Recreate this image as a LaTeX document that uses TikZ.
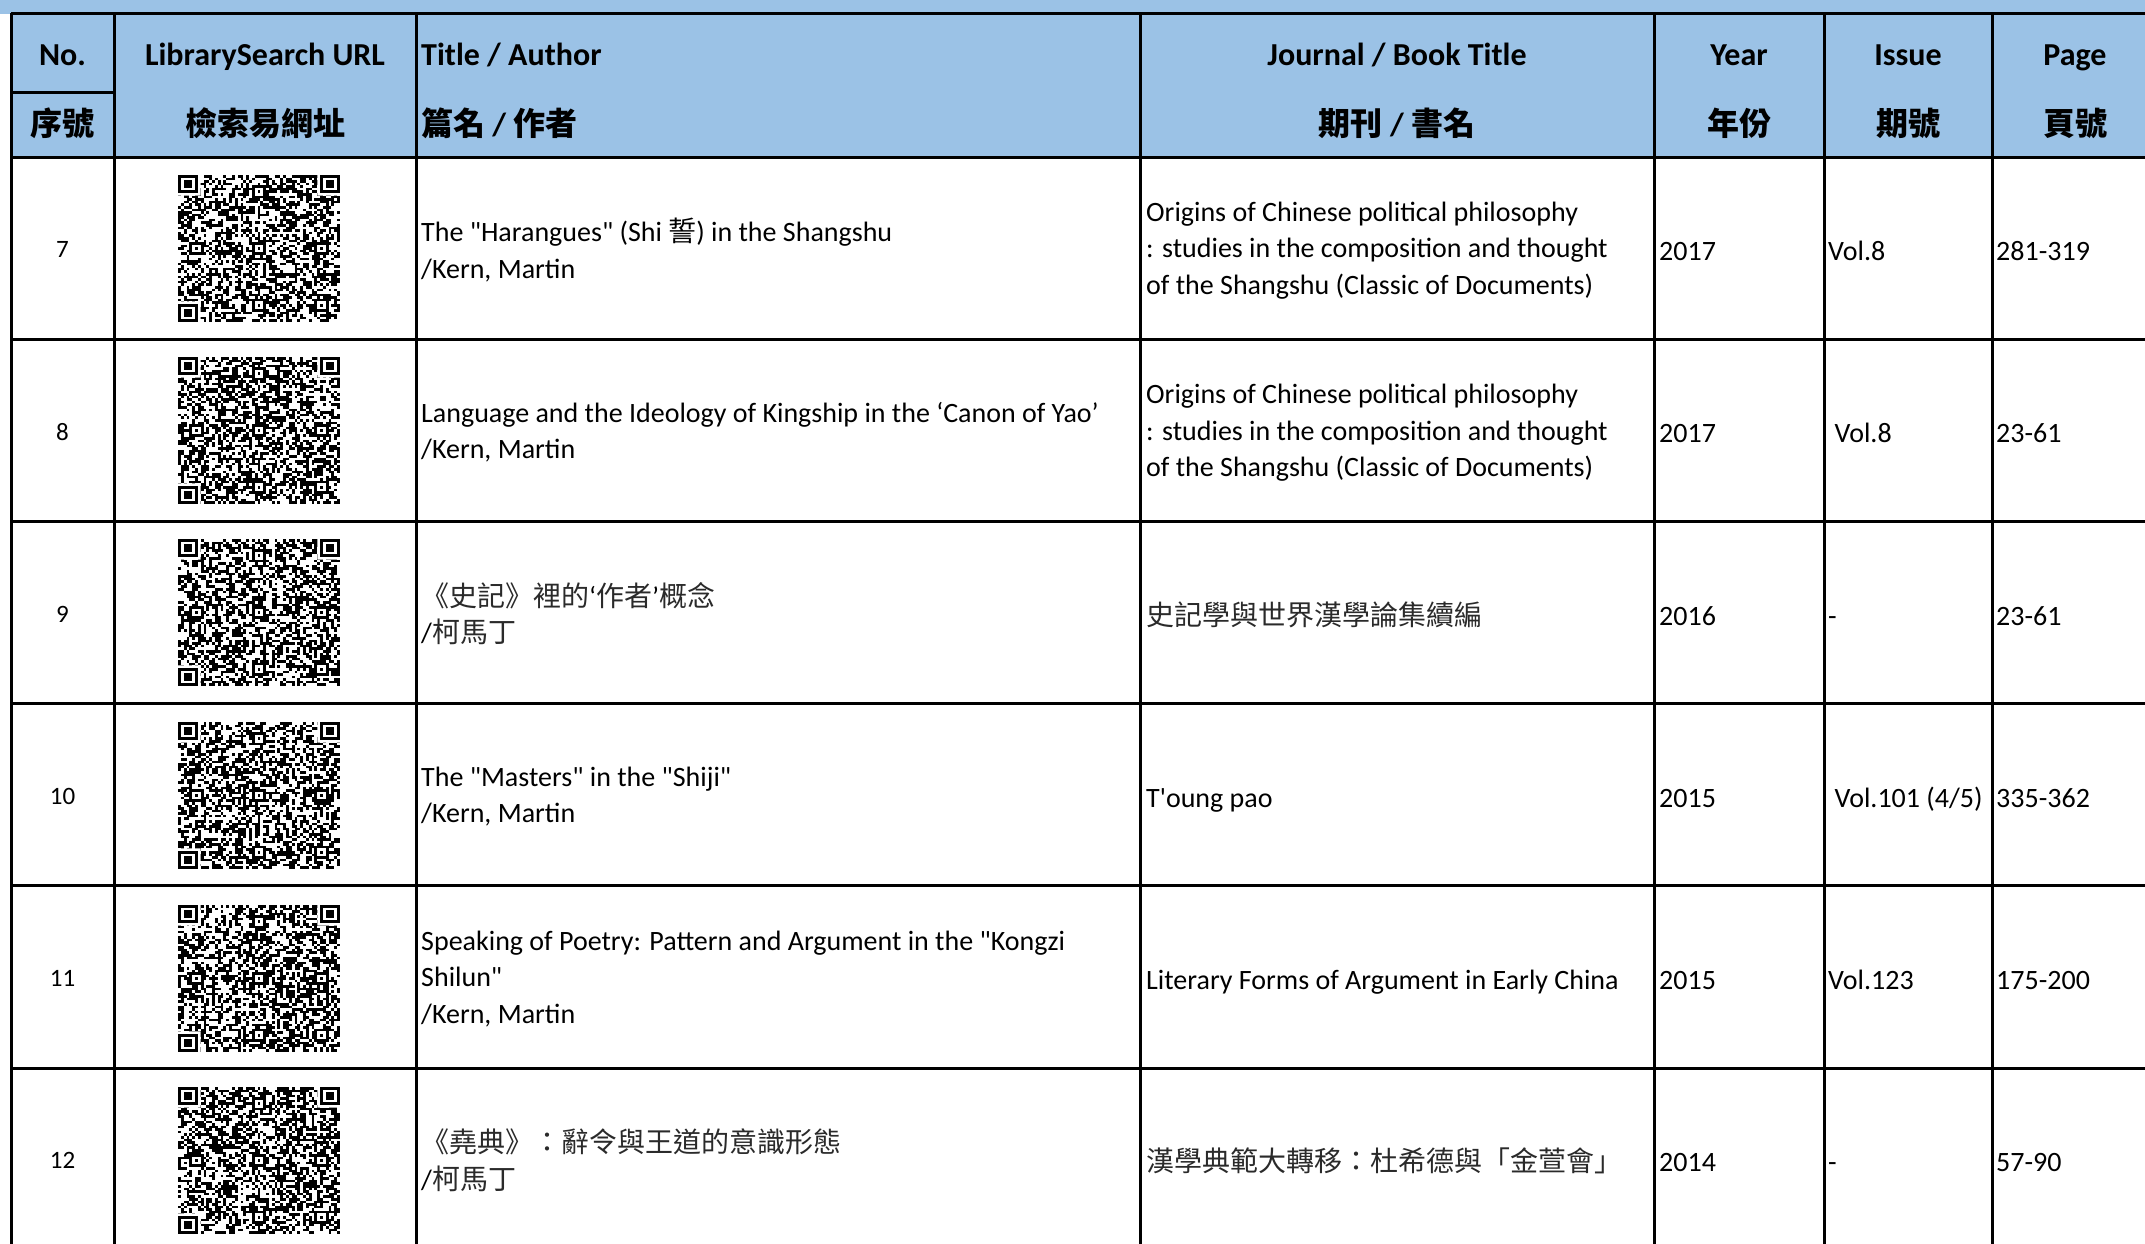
\documentclass[tikz,border=0pt]{standalone}
\usepackage{fontspec}
\setmainfont{Carlito}
\newfontfamily\calib{Carlito}
\newfontfamily\cjk{Noto Sans CJK TC}
\definecolor{hdrblue}{HTML}{9BC2E6}
\definecolor{cjkgray}{HTML}{2A2A2A}
\newcommand\mystrut{\rule[-8pt]{0pt}{33pt}}
\newcommand\zh[1]{{\cjk\color{cjkgray}#1}}
\tikzset{
  gridline/.style={line width=3pt, black},
  hdr/.style={font=\calib\bfseries\fontsize{32}{40}\selectfont, inner sep=0pt, anchor=base},
  hdrw/.style={hdr, anchor=base west},
  cell/.style={font=\calib\fontsize{28}{36.5}\selectfont, inner sep=0pt, anchor=west, align=left,
    yshift=-4pt, execute at begin node=\mystrut, execute at end node=\mystrut},
  num/.style={font=\calib\fontsize{25}{30}\selectfont, inner sep=0pt, anchor=center, yshift=-1.5pt}
}
\newcommand\qrcode[3]{%
\begin{scope}[shift={(#1,#2)}, x=2.842pt, y=-2.58pt]
  \pgfmathsetseed{#3}
  \pgfsetfillcolor{black}
  \foreach \r in {0,...,56}{\foreach \c in {0,...,56}{%
    \pgfmathrandominteger{\q}{0}{1}%
    \ifnum\q=1 \pgfpathrectangle{\pgfpointxy{\c}{\r}}{\pgfpointxy{1}{1}}\pgfusepath{fill}\fi}}
  \fill[white] (0,0) rectangle ++(8,8) (49,0) rectangle ++(8,8) (0,49) rectangle ++(8,8);
  \foreach \fx/\fy in {0/0,50/0,0/50}{
    \fill[black] (\fx,\fy) rectangle ++(7,7);
    \fill[white] (\fx+1,\fy+1) rectangle ++(5,5);
    \fill[black] (\fx+2,\fy+2) rectangle ++(3,3);
  }
  \foreach \ax/\ay in {28/6,6/28,28/28,50/28,28/50,50/50}{
    \fill[black] (\ax-2,\ay-2) rectangle ++(5,5);
    \fill[white] (\ax-1,\ay-1) rectangle ++(3,3);
    \fill[black] (\ax,\ay) rectangle ++(1,1);
  }
\end{scope}}
\begin{document}
\begin{tikzpicture}[x=1pt,y=-1pt]
\useasboundingbox (0,0) rectangle (2145,1243);
% header background
\fill[hdrblue] (0,0) rectangle (2160,157);
\fill[white] (0,14) rectangle (11,1243);
% QR codes
\qrcode{178}{175}{11}
\qrcode{178}{357}{23}
\qrcode{178}{539}{37}
\qrcode{178}{722}{41}
\qrcode{178}{905}{53}
\qrcode{178}{1087}{67}
% grid
\draw[gridline] (11,13) -- (2160,13);
\foreach \x in {11,114,416,1140,1654,1824,1992}{\draw[gridline] (\x,13) -- (\x,1260);}
\draw[gridline] (11,92) -- (114,92);
\foreach \y in {157,339.2,521.4,703.6,885.8,1068}{\draw[gridline] (11,\y) -- (2160,\y);}
% header
\node[hdr] (hno) at (62.5,65) {No.};
\node[hdr] (hnozh) at (62.5,135) {\cjk 序號};
\node[hdr] (hurl) at (265,65) {LibrarySearch URL};
\node[hdr] (hurlzh) at (265,135) {\cjk 檢索易網址};
\node[hdrw] (htitle) at (421,65) {Title / Author};
\node[hdrw] (htitlezh) at (421,135) {{\cjk 篇名} / {\cjk 作者}};
\node[hdr] (hjour) at (1397,65) {Journal / Book Title};
\node[hdr] (hjourzh) at (1397,135) {{\cjk 期刊} / {\cjk 書名}};
\node[hdr] (hyear) at (1739,65) {Year};
\node[hdr] (hyearzh) at (1739,135) {\cjk 年份};
\node[hdr] (hiss) at (1908,65) {Issue};
\node[hdr] (hisszh) at (1908,135) {\cjk 期號};
\node[hdr] (hpage) at (2075,65) {Page};
\node[hdr] (hpagezh) at (2075,135) {\cjk 頁號};
% row 7
\node[num] (n7) at (62.5,248) {7};
\node[cell] (t7) at (421,248) {The "Harangues" (Shi {\cjk 誓}) in the Shangshu\\/Kern, Martin};
\node[cell] (j7) at (1146,248) {Origins of Chinese political philosophy\\: studies in the composition and thought\\of the Shangshu (Classic of Documents)};
\node[cell] (y7) at (1659,248) {2017};
\node[cell] (i7) at (1828,248) {Vol.8};
\node[cell] (p7) at (1996,248) {281-319};
% row 8
\node[num] (n8) at (62.5,430.3) {8};
\node[cell] (t8) at (421,430.3) {Language and the Ideology of Kingship in the ‘Canon of Yao’\\/Kern, Martin};
\node[cell] (j8) at (1146,430.3) {Origins of Chinese political philosophy\\: studies in the composition and thought\\of the Shangshu (Classic of Documents)};
\node[cell] (y8) at (1659,430.3) {2017};
\node[cell] (i8) at (1828,430.3) {\ Vol.8};
\node[cell] (p8) at (1996,430.3) {23-61};
% row 9
\node[num] (n9) at (62.5,612.5) {9};
\node[cell] (t9) at (421,612.5) {\zh{《史記》裡的}‘\zh{作者}’\zh{概念}\\/\zh{柯馬丁}};
\node[cell] (j9) at (1146,612.5) {\zh{史記學與世界漢學論集續編}};
\node[cell] (y9) at (1659,612.5) {2016};
\node[cell] (i9) at (1828,612.5) {-};
\node[cell] (p9) at (1996,612.5) {23-61};
% row 10
\node[num] (n10) at (62.5,794.7) {10};
\node[cell] (t10) at (421,794.7) {The "Masters" in the "Shiji"\\/Kern, Martin};
\node[cell] (j10) at (1146,794.7) {T'oung pao};
\node[cell] (y10) at (1659,794.7) {2015};
\node[cell] (i10) at (1828,794.7) {\ Vol.101 (4/5)};
\node[cell] (p10) at (1996,794.7) {335-362};
% row 11
\node[num] (n11) at (62.5,977) {11};
\node[cell] (t11) at (421,977) {Speaking of Poetry: Pattern and Argument in the "Kongzi\\Shilun"\\/Kern, Martin};
\node[cell] (j11) at (1146,977) {Literary Forms of Argument in Early China};
\node[cell] (y11) at (1659,977) {2015};
\node[cell] (i11) at (1828,977) {Vol.123};
\node[cell] (p11) at (1996,977) {175-200};
% row 12
\node[num] (n12) at (62.5,1159) {12};
\node[cell] (t12) at (421,1159) {\zh{《堯典》：辭令與王道的意識形態}\\/\zh{柯馬丁}};
\node[cell] (j12) at (1146,1159) {\zh{漢學典範大轉移：杜希德與「金萱會」}};
\node[cell] (y12) at (1659,1159) {2014};
\node[cell] (i12) at (1828,1159) {-};
\node[cell] (p12) at (1996,1159) {57-90};
\end{tikzpicture}
\end{document}
